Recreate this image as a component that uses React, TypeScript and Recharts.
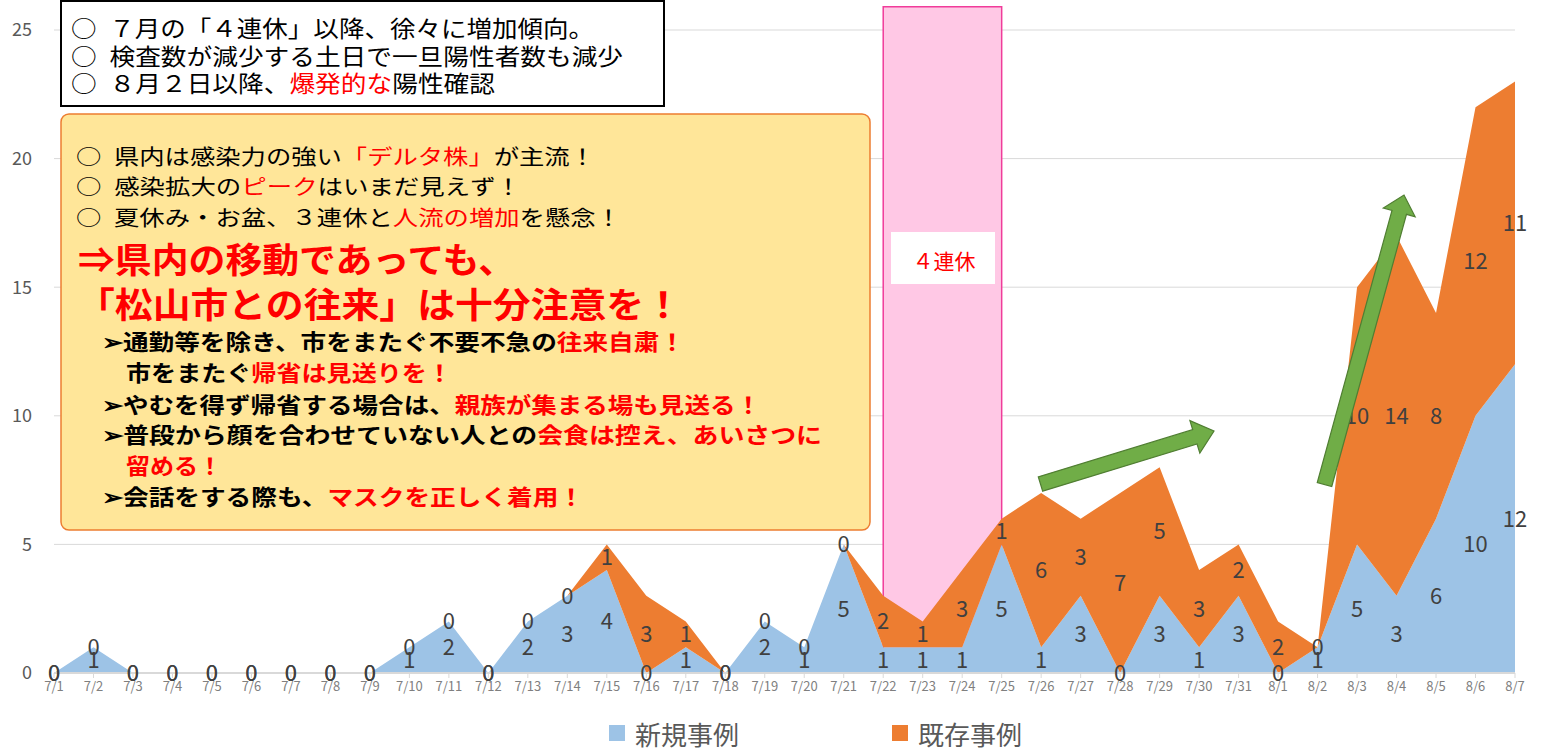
import {
  ComposedChart,
  Area,
  Line,
  XAxis,
  YAxis,
  CartesianGrid,
  ReferenceArea,
  LabelList,
  Legend,
} from "recharts";

const dates = [
  "7/1", "7/2", "7/3", "7/4", "7/5", "7/6", "7/7", "7/8", "7/9", "7/10",
  "7/11", "7/12", "7/13", "7/14", "7/15", "7/16", "7/17", "7/18", "7/19", "7/20",
  "7/21", "7/22", "7/23", "7/24", "7/25", "7/26", "7/27", "7/28", "7/29", "7/30",
  "7/31", "8/1", "8/2", "8/3", "8/4", "8/5", "8/6", "8/7",
];

// 新規事例
const newCases = [
  0, 1, 0, 0, 0, 0, 0, 0, 0, 1,
  2, 0, 2, 3, 4, 0, 1, 0, 2, 1,
  5, 1, 1, 1, 5, 1, 3, 0, 3, 1,
  3, 0, 1, 5, 3, 6, 10, 12,
];

// 既存事例
const existingCases = [
  0, 0, 0, 0, 0, 0, 0, 0, 0, 0,
  0, 0, 0, 0, 1, 3, 1, 0, 0, 0,
  0, 2, 1, 3, 1, 6, 3, 7, 5, 3,
  2, 2, 0, 10, 14, 8, 12, 11,
];

const yTicks = [0, 5, 10, 15, 20, 25];

const seriesNames = ["新規事例", "既存事例"];
const seriesColors = ["#9DC3E6", "#ED7D31"];

const data = dates.map((date, i) => ({
  date,
  newCases: newCases[i],
  existingCases: existingCases[i],
}));

const FONT = '"Noto Sans CJK JP", "Noto Sans", sans-serif';
const RED = "#FF0000";
const BULLET = "○\u2002";

type Seg = [string, string];
type TextLine = { x: number; y: number; w: number; size: number; bold?: boolean; segs: Seg[] };

const box1Lines: TextLine[] = [
  { x: 71, y: 27, w: 523, size: 23, segs: [[BULLET + "７月の「４連休」以降、徐々に増加傾向。", "#000"]] },
  { x: 71, y: 55, w: 552, size: 23, segs: [[BULLET + "検査数が減少する土日で一旦陽性者数も減少", "#000"]] },
  { x: 71, y: 82, w: 424, size: 23, segs: [[BULLET + "８月２日以降、", "#000"], ["爆発的な", RED], ["陽性確認", "#000"]] },
];

const box2Lines: TextLine[] = [
  { x: 76, y: 155, w: 519, size: 21, segs: [[BULLET + "県内は感染力の強い", "#000"], ["「デルタ株」", RED], ["が主流！", "#000"]] },
  { x: 76, y: 185, w: 445, size: 21, segs: [[BULLET + "感染拡大の", "#000"], ["ピーク", RED], ["はいまだ見えず！", "#000"]] },
  { x: 76, y: 216, w: 545, size: 21, segs: [[BULLET + "夏休み・お盆、３連休と", "#000"], ["人流の増加", RED], ["を懸念！", "#000"]] },
  { x: 78, y: 257, w: 437, size: 35, bold: true, segs: [["⇒県内の移動であっても、", RED]] },
  { x: 77, y: 302, w: 605, size: 35, bold: true, segs: [["「松山市との往来」は十分注意を！", RED]] },
  { x: 102, y: 340, w: 583, size: 22, bold: true, segs: [["➢通勤等を除き、市をまたぐ不要不急の", "#000"], ["往来自粛！", RED]] },
  { x: 126, y: 371, w: 326, size: 22, bold: true, segs: [["市をまたぐ", "#000"], ["帰省は見送りを！", RED]] },
  { x: 102, y: 403, w: 659, size: 22, bold: true, segs: [["➢やむを得ず帰省する場合は、", "#000"], ["親族が集まる場も見送る！", RED]] },
  { x: 102, y: 433, w: 720, size: 22, bold: true, segs: [["➢普段から顔を合わせていない人との", "#000"], ["会食は控え、あいさつに", RED]] },
  { x: 126, y: 464, w: 96, size: 22, bold: true, segs: [["留める！", RED]] },
  { x: 102, y: 495, w: 482, size: 22, bold: true, segs: [["➢会話をする際も、", "#000"], ["マスクを正しく着用！", RED]] },
];

function arrowPoints(x1: number, y1: number, x2: number, y2: number, shaft: number, head: number, headLen: number) {
  const dx = x2 - x1;
  const dy = y2 - y1;
  const len = Math.hypot(dx, dy);
  const ux = dx / len;
  const uy = dy / len;
  const nx = -uy;
  const ny = ux;
  const bx = x2 - ux * headLen;
  const by = y2 - uy * headLen;
  const pts = [
    [x1 + nx * shaft / 2, y1 + ny * shaft / 2],
    [bx + nx * shaft / 2, by + ny * shaft / 2],
    [bx + nx * head / 2, by + ny * head / 2],
    [x2, y2],
    [bx - nx * head / 2, by - ny * head / 2],
    [bx - nx * shaft / 2, by - ny * shaft / 2],
    [x1 - nx * shaft / 2, y1 - ny * shaft / 2],
  ];
  return pts.map((p) => p.join(",")).join(" ");
}

function renderLines(lines: TextLine[]) {
  return lines.map((l, i) => (
    <text
      key={i}
      x={l.x}
      y={l.y}
      dominantBaseline="central"
      fontSize={l.size}
      fontWeight={l.bold ? 700 : 400}
      textLength={l.w}
      lengthAdjust="spacingAndGlyphs"
    >
      {l.segs.map(([t, c], j) => (
        <tspan key={j} fill={c}>{t}</tspan>
      ))}
    </text>
  ));
}

const renderValue = (props: any) => {
  const { x, y, value } = props;
  return (
    <text x={x} y={y} dy="0.36em" textAnchor="middle" fontSize={22} fill="#404040" fontFamily={FONT}>
      {value}
    </text>
  );
};

const renderLegend = () => (
  <div style={{ display: "flex", alignItems: "center", height: 34, paddingLeft: 609, fontFamily: FONT }}>
    {seriesNames.map((name, i) => (
      <div key={name} style={{ display: "flex", alignItems: "center", width: 283 }}>
        <span style={{ display: "inline-block", width: 16, height: 16, background: seriesColors[i], marginRight: 10 }} />
        <span style={{ fontSize: 26, color: "#595959" }}>{name}</span>
      </div>
    ))}
  </div>
);

export default function App() {
  return (
    <div style={{ position: "relative", width: 1542, height: 754, background: "#fff", fontFamily: FONT }}>
      <style>{"body{margin:0}"}</style>
      <ComposedChart
        width={1542}
        height={754}
        data={data}
        margin={{ top: 30, right: 27, bottom: 17, left: 0 }}
      >
        <ReferenceArea
          x1="7/22"
          x2="7/25"
          y1={0}
          y2={25.9}
          ifOverflow="visible"
          fill="#FFC8E5"
          fillOpacity={1}
          stroke="#F03C9A"
          strokeWidth={1.5}
        />
        <CartesianGrid vertical={false} stroke="#D9D9D9" />
        <XAxis
          dataKey="date"
          interval={0}
          padding={{ left: 0, right: 0 }}
          height={30}
          tickSize={5}
          tickMargin={4}
          tick={{ fontSize: 13, fill: "#7F7F7F" }}
          axisLine={{ stroke: "#D9D9D9", strokeWidth: 2 }}
          tickLine={{ stroke: "#D9D9D9" }}
        />
        <YAxis
          domain={[0, 25]}
          ticks={yTicks}
          width={54}
          axisLine={false}
          tickLine={false}
          tickSize={0}
          tickMargin={22}
          tick={{ fontSize: 18, fill: "#595959" }}
        />
        <Area
          type="linear"
          stackId="cases"
          dataKey="newCases"
          name={seriesNames[0]}
          fill={seriesColors[0]}
          fillOpacity={1}
          stroke="none"
          isAnimationActive={false}
        />
        <Area
          type="linear"
          stackId="cases"
          dataKey="existingCases"
          name={seriesNames[1]}
          fill={seriesColors[1]}
          fillOpacity={1}
          stroke="none"
          isAnimationActive={false}
        />
        <Line
          dataKey={(d: any) => d.newCases / 2}
          stroke="none"
          dot={false}
          activeDot={false}
          legendType="none"
          isAnimationActive={false}
        >
          <LabelList dataKey="newCases" content={renderValue} />
        </Line>
        <Line
          dataKey={(d: any) => d.newCases + d.existingCases / 2}
          stroke="none"
          dot={false}
          activeDot={false}
          legendType="none"
          isAnimationActive={false}
        >
          <LabelList dataKey="existingCases" content={renderValue} />
        </Line>
        <Legend
          verticalAlign="bottom"
          content={renderLegend}
          wrapperStyle={{ top: 716, bottom: "auto", left: 0, width: 1542, height: 34 }}
        />
      </ComposedChart>

      <svg
        width={1542}
        height={754}
        style={{ position: "absolute", left: 0, top: 0, pointerEvents: "none", fontFamily: FONT }}
      >
        <rect x={61} y={1} width={603} height={105} fill="#fff" stroke="#000" strokeWidth={2} />
        {renderLines(box1Lines)}

        <rect x={61} y={114} width={809} height={416} rx={8} fill="#FFE699" stroke="#ED7D31" strokeWidth={1.5} />
        {renderLines(box2Lines)}

        <rect x={891} y={232} width={104} height={52} fill="#fff" />
        <text x={944} y={260} textAnchor="middle" dominantBaseline="central" fontSize={21} fill={RED}>
          ４連休
        </text>

        <polygon
          points={arrowPoints(1040.5, 484, 1214, 431, 15, 34, 20)}
          fill="#70AD47"
          stroke="#507E32"
          strokeWidth={1.2}
        />
        <polygon
          points={arrowPoints(1324.5, 484.5, 1404, 195, 15, 33, 18)}
          fill="#70AD47"
          stroke="#507E32"
          strokeWidth={1.2}
        />
      </svg>
    </div>
  );
}
